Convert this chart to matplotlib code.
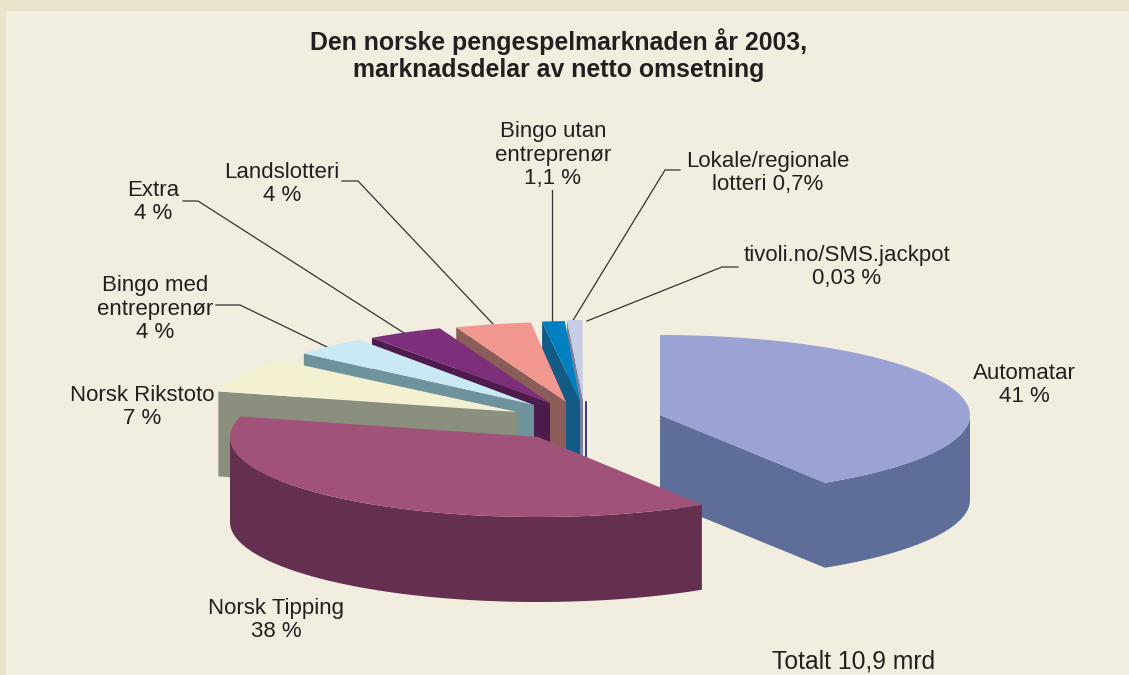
import matplotlib
matplotlib.use("Agg")
import matplotlib.pyplot as plt
import numpy as np

plt.rcParams["font.family"] = ["Liberation Sans", "DejaVu Sans"]

# share of net turnover, percent
names = ["Automatar", "Norsk Tipping", "Norsk Rikstoto", "Bingo med\nentreprenør", "Extra",
         "Landslotteri", "Bingo utan\nentreprenør", "Lokale/regionale", "tivoli.no/SMS.jackpot"]
shares = [41, 38, 7, 4, 4, 4, 1.1, 0.7, 0.03]
share_text = ["41 %", "38 %", "7 %", "4 %", "4 %", "4 %", "1,1 %", "lotteri 0,7%", "0,03 %"]

top_colors = ["#9aa3d3", "#a05278", "#f3f1d2", "#c9e9f5", "#7d2f7c",
              "#f29690", "#0080c0", "#c8cde6", "#e8e8ee"]
side_colors = ["#5e6e98", "#653050", "#8b8f7e", "#6f939d", "#4b1c4c",
               "#8a5d58", "#125b86", "#7c809e", "#1c1c6e"]

# where each exploded slice ends up, in pixels
apex_x = [660, 538, 517, 534, 550, 566, 580, 583, 586]
apex_y = [415, 437, 412, 405, 403, 402, 401, 400, 402]
radius_x = [310, 308, 309, 301, 307, 306, 330, 348, 300]
radius_y = [80, 80, 80, 80, 80, 80, 80, 80, 80]
depth = 85
draw_order = [8, 7, 6, 5, 4, 3, 2, 0, 1]

label_x = [1024, 276, 142, 155, 153, 282, 553, 768, 847]
label_y = [385, 620, 407, 309, 202, 184, 155, 173, 267]

leaders = [
    ([216, 240, 327], [305, 305, 347]),
    ([183, 198, 404], [201, 201, 333]),
    ([342, 358, 493], [181, 181, 324]),
    ([552, 552], [190, 322]),
    ([680, 665, 572], [170, 170, 322]),
    ([738, 722, 587], [267, 267, 321]),
]


def rim(i, a, b, n=80):
    # points on the top ellipse of slice i, angles clockwise from 12 o'clock
    t = np.radians(np.linspace(a, b, n))
    return apex_x[i] + radius_x[i] * np.sin(t), apex_y[i] - radius_y[i] * np.cos(t)


fig = plt.figure(figsize=(11.29, 6.75), dpi=100, facecolor="#e9e3cb")
ax = fig.add_axes([0, 0, 1, 1])
ax.set_xlim(0, 1129)
ax.set_ylim(675, 0)
ax.axis("off")
ax.add_patch(plt.Rectangle((6, 11), 1123, 664, color="#f2eedf", lw=0, zorder=0))

ends = np.cumsum(shares) / np.sum(shares) * 360
starts = np.concatenate([[0], ends[:-1]])

for i in draw_order:
    a, b = starts[i], ends[i]
    cx, cy = apex_x[i], apex_y[i]

    if i == 8:
        # too thin to fill, only its inner edge shows
        ax.plot([cx, cx], [cy, cy + depth], color=side_colors[i], lw=1.2, zorder=0.5)
        continue

    # cut faces towards the viewer
    for angle, visible in [(a, 180 < a < 360), (b, 0 < b < 180)]:
        if visible:
            ox, oy = rim(i, angle, angle, 1)
            ax.fill([ox[0], ox[0], cx, cx], [oy[0], oy[0] + depth, cy + depth, cy],
                    color=side_colors[i], lw=0)

    # outer wall, front half only
    wa, wb = max(a, 90), min(b, 270)
    if wa < wb:
        wx, wy = rim(i, wa, wb)
        ax.fill(np.r_[wx, wx[::-1]], np.r_[wy, wy[::-1] + depth], color=side_colors[i], lw=0)

    tx, ty = rim(i, a, b)
    ax.fill(np.r_[cx, tx], np.r_[cy, ty], color=top_colors[i], lw=0)

for lx, ly in leaders:
    ax.plot(lx, ly, color="#333333", lw=0.9, zorder=0.5)

for i in range(len(names)):
    ax.text(label_x[i], label_y[i], names[i] + "\n" + share_text[i], ha="center", va="center",
            fontsize=16, color="#231f20", linespacing=1.17)

ax.text(559, 55, "Den norske pengespelmarknaden år 2003,\nmarknadsdelar av netto omsetning",
        ha="center", va="center", fontsize=17.9, fontweight="bold", color="#231f20", linespacing=1.2)
ax.text(854, 661, "Totalt 10,9 mrd", ha="center", va="center", fontsize=17.8, color="#231f20")

fig.savefig("out.png", dpi=100, facecolor=fig.get_facecolor())
plt.close(fig)
